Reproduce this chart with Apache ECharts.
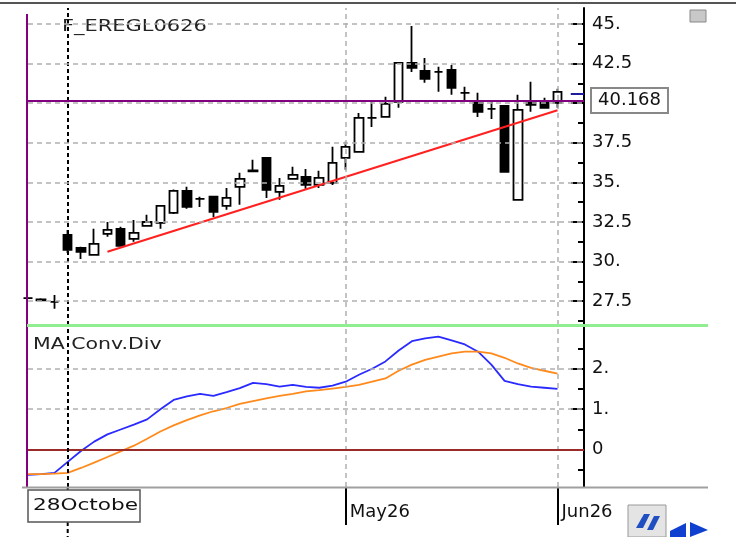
<!DOCTYPE html>
<html><head><meta charset="utf-8">
<script src="https://cdn.jsdelivr.net/npm/echarts@6/dist/echarts.min.js"></script>
<style>html,body{margin:0;padding:0;background:#fff}#c{width:736px;height:537px}</style>
</head><body><div id="c"></div>
<script>
// ---------- data ----------
const categories = Array.from({length: 43}, (_, i) => String(i));
const opens  = [27.70,27.62,27.46,31.69,30.87,30.43,31.75,32.07,31.44,32.25,32.44,33.08,34.46,33.96,34.09,33.52,34.72,35.76,36.55,34.40,35.22,35.35,34.84,34.97,36.55,36.92,39.07,39.13,40.08,42.54,42.03,41.97,42.10,40.65,40.08,39.64,39.83,33.90,40.08,40.02,40.02];
const closes = [27.70,27.55,27.46,30.74,30.62,31.12,32.00,31.00,31.81,32.50,33.52,34.46,33.45,33.96,33.14,34.02,35.22,35.70,34.53,34.78,35.47,34.84,35.28,36.23,37.24,39.07,39.07,39.95,42.54,42.22,41.53,41.97,40.96,40.65,39.45,39.64,35.66,39.57,39.89,39.70,40.71];
const lows   = [27.65,27.50,27.02,30.55,30.17,30.43,31.56,30.93,31.25,32.25,32.07,33.00,33.33,33.45,32.82,33.27,33.58,35.70,34.02,33.90,35.22,34.59,34.65,34.84,35.79,36.92,38.50,39.13,39.70,41.97,41.28,40.71,40.52,40.20,39.13,39.00,35.66,33.90,39.45,39.70,39.70];
const highs  = [27.75,27.68,27.90,32.00,30.93,32.07,32.50,32.20,32.63,32.95,33.55,34.55,34.72,34.09,34.15,34.65,35.60,36.42,36.60,35.28,35.98,35.85,35.73,37.24,37.56,39.38,40.08,40.40,42.54,44.87,42.85,42.29,42.41,41.03,40.65,40.20,39.83,40.52,41.34,40.33,40.90];
const macdLine   = [-0.62,-0.60,-0.57,-0.30,-0.03,0.20,0.38,0.50,0.62,0.75,1.00,1.23,1.32,1.38,1.33,1.42,1.52,1.65,1.62,1.56,1.60,1.55,1.53,1.58,1.68,1.85,2.00,2.18,2.45,2.68,2.75,2.79,2.70,2.60,2.42,2.10,1.70,1.62,1.56,1.53,1.50];
const signalLine = [-0.60,-0.60,-0.59,-0.57,-0.45,-0.32,-0.18,-0.04,0.10,0.27,0.45,0.60,0.73,0.85,0.95,1.03,1.13,1.20,1.27,1.33,1.38,1.44,1.47,1.51,1.55,1.60,1.68,1.76,1.95,2.10,2.22,2.30,2.38,2.42,2.42,2.38,2.27,2.13,2.02,1.95,1.88];
const trendLine = [[6, 30.62], [40, 39.55]];
const lastPrice = 40.168;
const markerPrice = 40.62;
const cursorIndex = 3;
const cursorLabel = '28October';
const dateLabels = {24: 'May26', 40: 'Jun26'};
const priceTicks = [27.5, 30, 32.5, 35, 37.5, 40, 42.5, 45];
const priceLabels = [27.5, 30, 32.5, 35, 37.5, 42.5, 45];
const priceMinorTicks = [26.25, 28.75, 31.25, 33.75, 36.25, 38.75, 41.25, 43.75];
const macdTicks = [0, 1, 2];
const macdMinorTicks = [-0.5, 0.5, 1.5, 2.5];
const macdGridValues = [1, 2];
const title = 'F_EREGL0626';
const macdTitle = 'MA Conv.Div';

// ---------- chart ----------
const FONT = 'DejaVu Sans';
const chart = echarts.init(document.getElementById('c'));
const candleData = opens.map((o, i) => [o, closes[i], lows[i], highs[i]]);
const dateIdx = Object.keys(dateLabels).map(Number);
const fmt = v => (Math.abs(v % 1) < 1e-9 ? v + '.' : String(v));
const dashGray = {color: '#b0b0b0', type: [5, 4], width: 1.5};
const cursorStyle = {color: '#000', type: [4, 3], width: 2};

const option = {
  animation: false,
  backgroundColor: '#fff',
  textStyle: {fontFamily: FONT},
  grid: [
    {left: 28, right: 152, top: 8, height: 317},
    {left: 28, right: 152, top: 327, height: 160}
  ],
  xAxis: [
    {type: 'category', gridIndex: 0, data: categories, boundaryGap: false,
     axisLine: {show: false, onZero: false}, axisTick: {show: false}, axisLabel: {show: false}, splitLine: {show: false}},
    {type: 'category', gridIndex: 1, data: categories, boundaryGap: false, position: 'bottom',
     axisLine: {show: false, onZero: false},
     axisTick: {show: true, interval: (i) => dateIdx.includes(i), length: 38, lineStyle: {color: '#000', width: 2}},
     axisLabel: {show: true, interval: (i) => dateIdx.includes(i), formatter: (v, i) => dateLabels[i] || '',
                 align: 'left', margin: 16, fontSize: 18, color: '#111', padding: [0, 0, 0, 4]},
     splitLine: {show: false}}
  ],
  yAxis: [
    {type: 'value', gridIndex: 0, position: 'right', min: 26, max: 46,
     axisLine: {show: true, lineStyle: {color: '#000', width: 2}},
     axisTick: {show: true, inside: true, length: 13, customValues: priceTicks, lineStyle: {color: '#000', width: 2}},
     axisLabel: {show: true, customValues: priceLabels, formatter: fmt, fontSize: 18, color: '#111', margin: 8},
     splitLine: {show: false}},
    {type: 'value', gridIndex: 0, position: 'right', min: 26, max: 46,
     axisLine: {show: false},
     axisTick: {show: true, inside: true, length: 6, customValues: priceMinorTicks, lineStyle: {color: '#000', width: 2}},
     axisLabel: {show: false}, splitLine: {show: false}},
    {type: 'value', gridIndex: 1, position: 'right', min: -0.92, max: 3.03,
     axisLine: {show: true, lineStyle: {color: '#000', width: 2}},
     axisTick: {show: true, inside: true, length: 13, customValues: macdTicks, lineStyle: {color: '#000', width: 2}},
     axisLabel: {show: true, customValues: macdTicks, formatter: v => (v === 0 ? '0' : fmt(v)), fontSize: 18, color: '#111', margin: 8},
     splitLine: {show: false}},
    {type: 'value', gridIndex: 1, position: 'right', min: -0.92, max: 3.03,
     axisLine: {show: false},
     axisTick: {show: true, inside: true, length: 6, customValues: macdMinorTicks, lineStyle: {color: '#000', width: 2}},
     axisLabel: {show: false}, splitLine: {show: false}}
  ],
  series: [
    { // price-panel grid lines
      type: 'line', xAxisIndex: 0, yAxisIndex: 0, data: [], z: 1, silent: true,
      markLine: {silent: true, symbol: 'none', label: {show: false}, lineStyle: dashGray,
        data: priceTicks.map(v => ({yAxis: v})).concat(dateIdx.map(i => ({xAxis: i})))}
    },
    { // macd-panel grid lines
      type: 'line', xAxisIndex: 1, yAxisIndex: 2, data: [], z: 1, silent: true,
      markLine: {silent: true, symbol: 'none', label: {show: false}, lineStyle: dashGray,
        data: macdGridValues.map(v => ({yAxis: v})).concat(dateIdx.map(i => ({xAxis: i})))}
    },
    {
      type: 'candlestick', xAxisIndex: 0, yAxisIndex: 0, data: candleData, barWidth: 9, z: 3,
      itemStyle: {color: '#fff', color0: '#000', borderColor: '#000', borderColor0: '#000', borderWidth: 1.8},
      markLine: {silent: true, symbol: 'none', z: 4,
        data: [
          {xAxis: cursorIndex, lineStyle: cursorStyle, label: {show: false}},
          {yAxis: lastPrice, lineStyle: {color: '#800080', width: 2, type: 'solid'},
           label: {show: true, position: 'end', formatter: String(lastPrice), fontSize: 18, color: '#111',
                   fontFamily: FONT, backgroundColor: '#fff', borderColor: '#888', borderWidth: 2,
                   padding: [3, 6, 2, 6], distance: 8}},
          [{coord: [40.6, markerPrice], lineStyle: {color: '#1c1c9c', width: 2, type: 'solid'}, label: {show: false}},
           {coord: [41.9, markerPrice]}]
        ]}
    },
    {
      type: 'line', xAxisIndex: 0, yAxisIndex: 0, data: trendLine, z: 4, showSymbol: false,
      lineStyle: {color: '#ff2020', width: 2}
    },
    {
      type: 'line', xAxisIndex: 1, yAxisIndex: 2, data: macdLine, showSymbol: false, z: 3,
      lineStyle: {color: '#2a2aff', width: 1.8},
      markLine: {silent: true, symbol: 'none', label: {show: false},
        data: [
          {yAxis: 0, lineStyle: {color: '#9b2a2a', width: 2, type: 'solid'}},
          {xAxis: cursorIndex, lineStyle: cursorStyle}
        ]}
    },
    {
      type: 'line', xAxisIndex: 1, yAxisIndex: 2, data: signalLine, showSymbol: false, z: 3,
      lineStyle: {color: '#ff8a1c', width: 1.8}
    }
  ],
  graphic: [
    {type: 'rect', shape: {x: 0, y: 2, width: 736, height: 2}, style: {fill: '#555'}, silent: true},
    {type: 'line', shape: {x1: 27, y1: 14, x2: 27, y2: 487}, style: {stroke: '#800080', lineWidth: 2}, silent: true, z: 10},
    {type: 'line', shape: {x1: 27, y1: 325.5, x2: 708, y2: 325.5}, style: {stroke: '#90ee90', lineWidth: 3}, silent: true, z: 10},
    {type: 'line', shape: {x1: 22, y1: 487.5, x2: 708, y2: 487.5}, style: {stroke: '#a0a0a0', lineWidth: 2}, silent: true, z: 10},
    {type: 'text', x: 62, y: 19, scaleX: 1.31, style: {text: title, font: '16px "DejaVu Sans"', fill: '#222', verticalAlign: 'top'}, silent: true},
    {type: 'text', x: 33, y: 337, scaleX: 1.28, style: {text: macdTitle, font: '16px "DejaVu Sans"', fill: '#222', verticalAlign: 'top'}, silent: true, z: 10},
    {type: 'line', shape: {x1: 67.7, y1: 487, x2: 67.7, y2: 537}, style: {stroke: '#000', lineWidth: 2, lineDash: [4, 3]}, silent: true},
    {type: 'rect', shape: {x: 28, y: 490, width: 112, height: 32}, style: {fill: '#fff', stroke: '#555', lineWidth: 1.5}, silent: true, z: 11},
    {type: 'text', x: 33, y: 506, scaleX: 1.35, style: {text: cursorLabel, font: '16px "DejaVu Sans"', fill: '#111', verticalAlign: 'middle',
      width: 80, overflow: 'truncate', ellipsis: ''}, silent: true, z: 12},
    {type: 'rect', shape: {x: 690, y: 10, width: 16, height: 12}, style: {fill: '#c8c8c8', stroke: '#888', lineWidth: 1}, silent: true},
    {type: 'rect', shape: {x: 628, y: 505, width: 38, height: 32}, style: {fill: '#e4e4e4', stroke: '#999', lineWidth: 1}, silent: true},
    {type: 'polygon', shape: {points: [[636, 528], [644, 514], [650, 514], [643, 528]]}, style: {fill: '#1f4fc0'}, silent: true},
    {type: 'polygon', shape: {points: [[647, 530], [654, 516], [660, 516], [653, 530]]}, style: {fill: '#1f4fc0'}, silent: true},
    {type: 'polygon', shape: {points: [[670, 531], [686, 523], [686, 537], [670, 537]]}, style: {fill: '#1040d0'}, silent: true},
    {type: 'polygon', shape: {points: [[690, 522], [708, 530], [690, 537]]}, style: {fill: '#1040d0'}, silent: true}
  ]
};
chart.setOption(option);
</script></body></html>
